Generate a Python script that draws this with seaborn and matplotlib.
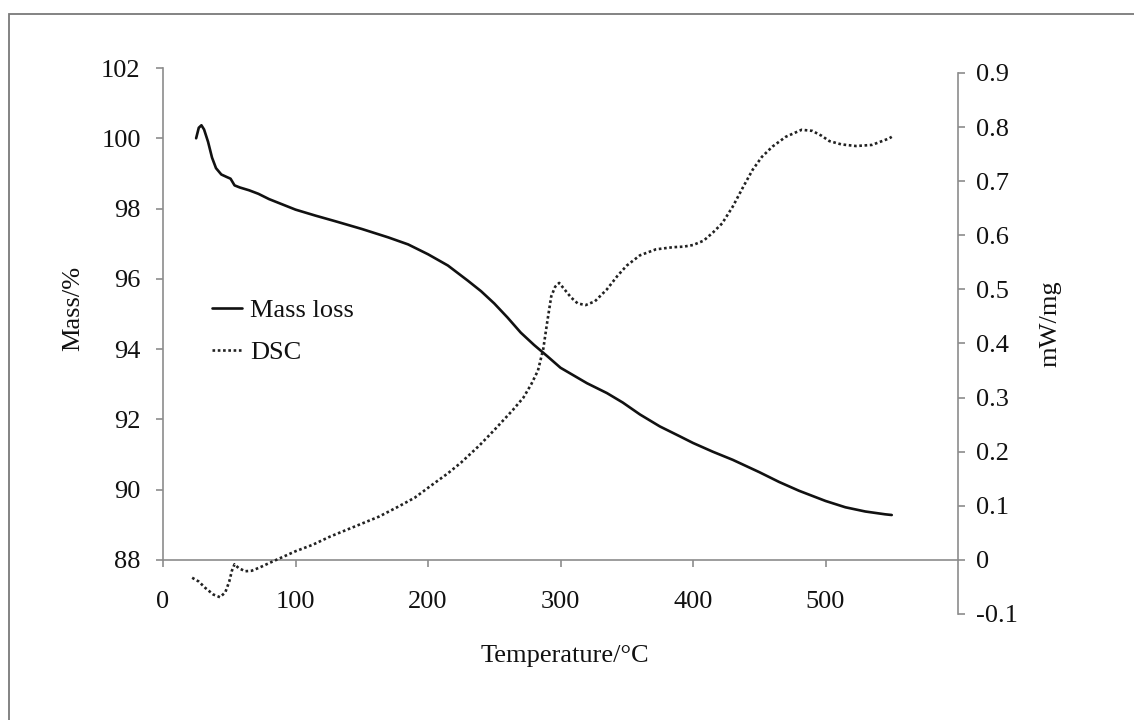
import numpy as np
import pandas as pd
import seaborn as sns
import matplotlib
matplotlib.use("Agg")
import matplotlib.pyplot as plt
from matplotlib.patches import Rectangle

# Thermogravimetric mass curve
mass_temp = [25, 27, 29, 31, 34, 37, 40, 44, 48, 51, 54, 58, 65, 72, 80, 90, 100,
             115, 130, 150, 170, 185, 200, 215, 230, 240, 250, 260, 270, 280, 290,
             300, 310, 320, 335, 347, 360, 375, 390, 400, 415, 430, 450, 465, 480,
             500, 515, 530, 545, 550]
mass_pct = [100.00, 100.30, 100.37, 100.25, 99.90, 99.45, 99.15, 98.97, 98.90, 98.85,
            98.66, 98.60, 98.52, 98.42, 98.27, 98.12, 97.97, 97.80, 97.64, 97.42,
            97.18, 96.98, 96.70, 96.38, 95.95, 95.65, 95.30, 94.90, 94.47, 94.12,
            93.80, 93.47, 93.25, 93.03, 92.75, 92.48, 92.14, 91.80, 91.52, 91.33,
            91.08, 90.85, 90.50, 90.22, 89.97, 89.68, 89.50, 89.38, 89.30, 89.28]

# DSC heat-flow curve
dsc_temp = [22, 27, 32, 38, 43, 47, 50, 52, 54, 57, 62, 67, 73, 80, 90, 100, 113, 126,
            140, 150, 163, 178, 190, 201, 215, 225, 239, 250, 264, 272, 278, 283, 287,
            290, 293, 296, 299, 303, 308, 313, 319, 326, 335, 343, 350, 360, 372, 385,
            393, 400, 408, 415, 422, 430, 438, 445, 452, 460, 470, 482, 490, 497, 503,
            512, 523, 535, 548, 550]
dsc_val = [-0.033, -0.040, -0.052, -0.064, -0.069, -0.060, -0.040, -0.020, -0.008,
           -0.015, -0.021, -0.020, -0.014, -0.006, 0.005, 0.016, 0.028, 0.043, 0.057,
           0.067, 0.080, 0.099, 0.115, 0.135, 0.160, 0.180, 0.212, 0.240, 0.277, 0.300,
           0.325, 0.350, 0.390, 0.440, 0.487, 0.505, 0.512, 0.500, 0.485, 0.474, 0.471,
           0.478, 0.500, 0.525, 0.544, 0.563, 0.574, 0.578, 0.579, 0.582, 0.590, 0.605,
           0.622, 0.653, 0.690, 0.721, 0.745, 0.764, 0.782, 0.795, 0.793, 0.784, 0.774,
           0.768, 0.765, 0.767, 0.779, 0.782]

x_ticks = [0, 100, 200, 300, 400, 500]
mass_ticks = [88, 90, 92, 94, 96, 98, 100, 102]
dsc_ticks = [-0.1, 0, 0.1, 0.2, 0.3, 0.4, 0.5, 0.6, 0.7, 0.8, 0.9]
dsc_tick_labels = ["-0.1", "0", "0.1", "0.2", "0.3", "0.4", "0.5", "0.6", "0.7", "0.8", "0.9"]

sns.set_style("white")
plt.rcParams["font.family"] = ["Liberation Serif", "DejaVu Serif"]
plt.rcParams["axes.unicode_minus"] = False

FS = 19
TXT = "#111111"
SPINE = "#8c8c8c"

df_mass = pd.DataFrame({"T": mass_temp, "mass": mass_pct})
df_dsc = pd.DataFrame({"T": dsc_temp, "dsc": dsc_val})

fig = plt.figure(figsize=(11.34, 7.2), dpi=100)
ax = fig.add_axes([163 / 1134, 106 / 720, 795 / 1134, 546 / 720])
ax2 = ax.twinx()

sns.lineplot(data=df_mass, x="T", y="mass", ax=ax, color="#111111", lw=1.9,
             sort=False, estimator=None, label="Mass loss",
             solid_joinstyle="round", solid_capstyle="round")
sns.lineplot(data=df_dsc, x="T", y="dsc", ax=ax2, color="#222222", lw=1.9,
             linestyle=(0, (1, 1)), sort=False, estimator=None, label="DSC")

ax.set_xlim(0, 600)
ax.set_ylim(86.463, 102)
ax2.set_ylim(-0.1, 0.9092)

ax.set_xticks(x_ticks)
ax.set_xticklabels([str(t) for t in x_ticks])
ax.set_yticks(mass_ticks)
ax.set_yticklabels([str(t) for t in mass_ticks])
ax2.set_yticks(dsc_ticks)
ax2.set_yticklabels(dsc_tick_labels)

for a in (ax, ax2):
    for s in a.spines.values():
        s.set_visible(False)
        s.set_color(SPINE)
        s.set_linewidth(1.2)

ax.spines["left"].set_visible(True)
ax.spines["left"].set_bounds(88, 102)
ax.spines["bottom"].set_visible(True)
ax.spines["bottom"].set_position(("data", 88))
ax.spines["bottom"].set_bounds(0, 600)
ax2.spines["right"].set_visible(True)
ax2.spines["right"].set_bounds(-0.1, 0.9)

ax.tick_params(axis="x", direction="out", length=5, width=1.2, color=SPINE,
               labelsize=FS, labelcolor=TXT, pad=17, bottom=True)
ax.tick_params(axis="y", direction="out", length=5, width=1.2, color=SPINE,
               labelsize=FS, labelcolor=TXT, pad=11, left=True)
ax2.tick_params(axis="y", direction="out", length=5, width=1.2, color=SPINE,
                labelsize=FS, labelcolor=TXT, pad=8, right=True)

ax.set_xlabel("")
ax.set_ylabel("")
ax2.set_ylabel("")

fig.text(73 / 1134, 1 - 308 / 720, "Mass/%", rotation=90, ha="center", va="center",
         fontsize=FS, color=TXT)
fig.text(1050 / 1134, 1 - 324 / 720, "mW/mg", rotation=90, ha="center", va="center",
         fontsize=FS, color=TXT)
fig.text(565 / 1134, 1 - 656 / 720, "Temperature/\u00b0C", ha="center", va="center",
         fontsize=FS, color=TXT)

# combined legend for both curves
h1, l1 = ax.get_legend_handles_labels()
h2, l2 = ax2.get_legend_handles_labels()
if ax2.get_legend() is not None:
    ax2.get_legend().remove()
ax.legend(h1 + h2, l1 + l2, loc="upper left",
          bbox_to_anchor=(212 / 1134, 1 - 299 / 720), bbox_transform=fig.transFigure,
          frameon=False, fontsize=FS, handlelength=1.15, handletextpad=0.3,
          borderpad=0, borderaxespad=0, labelspacing=0.7, labelcolor=TXT)

# outer frame
fig.add_artist(Rectangle((9 / 1134, -0.1), 1.2, 1.1 - 14 / 720, transform=fig.transFigure,
                         fill=False, edgecolor="#7a7a7a", lw=1.3, clip_on=False))

fig.savefig("out.png", dpi=100)
